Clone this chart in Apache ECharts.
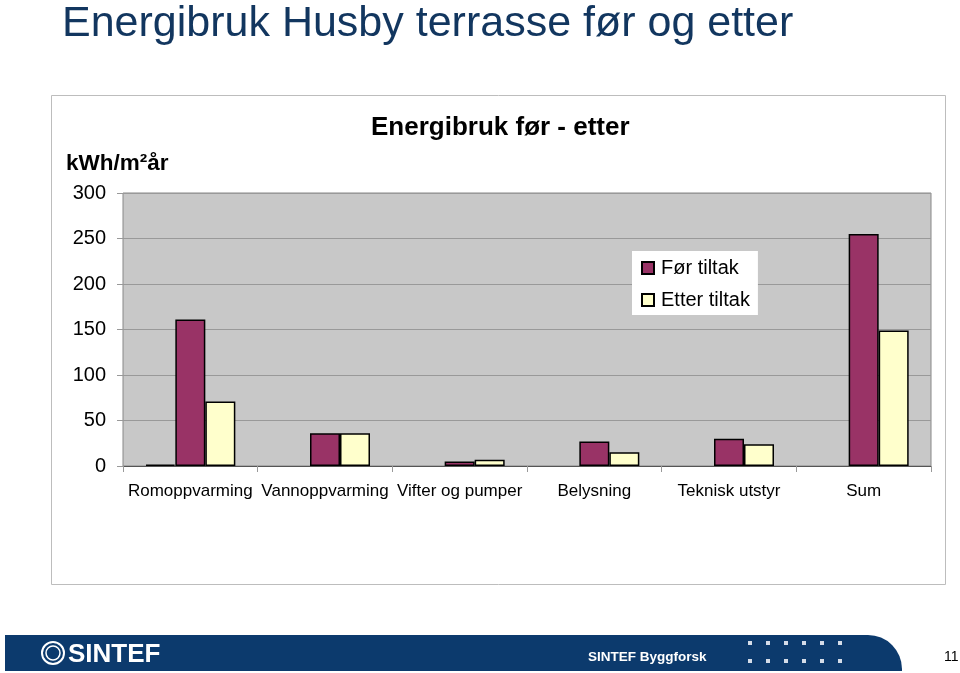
<!DOCTYPE html>
<html><head><meta charset="utf-8">
<script src="https://cdn.jsdelivr.net/npm/echarts@6/dist/echarts.min.js"></script>
<style>html,body{margin:0;padding:0;background:#fff}#c{width:960px;height:673px}</style>
</head><body><div id="c"></div>
<script>
const categories = ['Romoppvarming', 'Vannoppvarming', 'Vifter og pumper', 'Belysning', 'Teknisk utstyr', 'Sum'];
const forTiltak = [161, 36, 5, 27, 30, 255];
const etterTiltak = [71, 36, 7, 15, 24, 149];
const ekstra = [1.5, null, null, null, null, null];
const seriesNames = ['Før tiltak', 'Etter tiltak'];
const yMin = 0, yMax = 300, yInterval = 50;

const FONT = 'Liberation Sans, Arial, sans-serif';
const chart = echarts.init(document.getElementById('c'), null, {renderer: 'canvas'});

const dots = [];
[643, 661].forEach(function (y) {
  [750, 768, 786, 804, 822, 840].forEach(function (x) {
    dots.push({type: 'rect', shape: {x: x - 2, y: y - 2, width: 4, height: 4}, style: {fill: '#d5dce8'}, z: 10});
  });
});

chart.setOption({
  backgroundColor: '#ffffff',
  animation: false,
  textStyle: {fontFamily: FONT},
  title: {
    text: 'Energibruk før - etter',
    left: 366, top: 110,
    textStyle: {fontFamily: FONT, fontSize: 26, fontWeight: 'bold', color: '#000'}
  },
  legend: {
    data: seriesNames,
    orient: 'vertical',
    left: 632, top: 251,
    backgroundColor: '#ffffff',
    padding: [7, 8, 5, 9],
    itemWidth: 12, itemHeight: 12, itemGap: 12,
    icon: 'rect',
    textStyle: {fontFamily: FONT, fontSize: 20, color: '#000', padding: [0, 0, 0, 2]}
  },
  grid: {
    left: 123, right: 29, top: 193, bottom: 207,
    show: true, backgroundColor: '#c8c8c8', borderColor: '#888', borderWidth: 1
  },
  xAxis: {
    type: 'category',
    data: categories,
    axisLine: {show: true, lineStyle: {color: '#555', width: 1}},
    axisTick: {show: true, length: 6, lineStyle: {color: '#999'}},
    axisLabel: {fontFamily: FONT, fontSize: 17, color: '#000', margin: 17, interval: 0}
  },
  yAxis: {
    type: 'value',
    min: yMin, max: yMax, interval: yInterval,
    axisLine: {show: false},
    axisTick: {show: true, length: 6, lineStyle: {color: '#999'}},
    splitLine: {lineStyle: {color: '#999', width: 1}},
    axisLabel: {fontFamily: FONT, fontSize: 20, color: '#000', margin: 17}
  },
  series: [
    {
      name: 'ekstra', type: 'bar', data: ekstra, barWidth: 30, barGap: '0%',
      itemStyle: {color: '#993366', borderColor: '#000', borderWidth: 1.5},
      silent: true
    },
    {
      name: seriesNames[0], type: 'bar', data: forTiltak, barWidth: 30, barGap: '0%',
      itemStyle: {color: '#993366', borderColor: '#000', borderWidth: 1.5}
    },
    {
      name: seriesNames[1], type: 'bar', data: etterTiltak, barWidth: 30, barGap: '0%',
      itemStyle: {color: '#ffffcc', borderColor: '#000', borderWidth: 1.5}
    }
  ],
  graphic: [
    {type: 'text', left: 62, top: 3, z: 10,
      style: {text: 'Energibruk Husby terrasse før og etter', fontFamily: FONT, fontSize: 43, fill: '#12365f'}},
    {type: 'rect', shape: {x: 51.5, y: 95.5, width: 894, height: 489}, style: {fill: 'none', stroke: '#bdbdbd', lineWidth: 1}, z: -1},
    {type: 'text', left: 66, top: 152, z: 10,
      style: {text: 'kWh/m²år', fontFamily: FONT, fontSize: 22.5, fontWeight: 'bold', fill: '#000'}},
    {type: 'rect', shape: {x: 5, y: 635, width: 897, height: 36, r: [0, 34, 0, 0]}, style: {fill: '#0c3a6d'}, z: 5},
    {type: 'circle', shape: {cx: 53, cy: 653, r: 11}, style: {fill: 'none', stroke: '#fff', lineWidth: 2}, z: 10},
    {type: 'circle', shape: {cx: 53, cy: 653, r: 7}, style: {fill: 'none', stroke: '#fff', lineWidth: 1.5}, z: 10},
    {type: 'text', x: 68, y: 642, z: 10,
      style: {text: 'SINTEF', fontFamily: FONT, fontSize: 26, fontWeight: 'bold', fill: '#fff'}},
    {type: 'text', x: 588, y: 650, z: 10,
      style: {text: 'SINTEF Byggforsk', fontFamily: FONT, fontSize: 13.5, fontWeight: 'bold', fill: '#fff'}},
    {type: 'text', x: 944, y: 650, z: 10,
      style: {text: '11', fontFamily: FONT, fontSize: 14, fill: '#000'}}
  ].concat(dots)
});
</script></body></html>
